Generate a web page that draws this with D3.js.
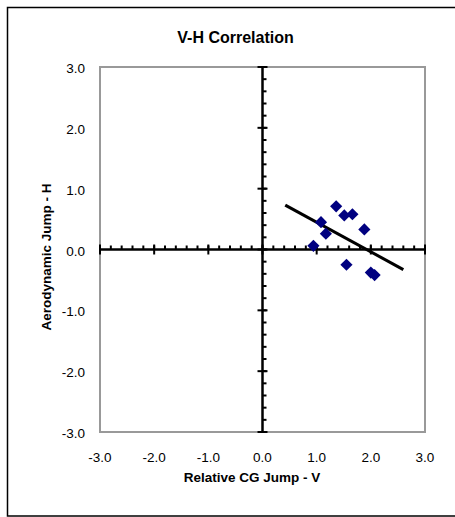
<!DOCTYPE html>
<html><head><meta charset="utf-8">
<script src="https://cdn.jsdelivr.net/npm/d3@7"></script>
<style>body{margin:0;background:#fff}svg{display:block;font-family:"Liberation Sans",Arial,sans-serif}</style>
</head><body><svg id="c" width="455" height="517"></svg>
<script>
const xVals = [1.36, 1.51, 1.66, 1.08, 1.17, 1.88, 0.94, 1.55, 2.0, 2.07];
const yVals = [0.71, 0.56, 0.58, 0.45, 0.26, 0.33, 0.06, -0.25, -0.38, -0.42];
const trendX = [0.42, 2.6];
const trendY = [0.73, -0.33];
const tickVals = [-3, -2, -1, 0, 1, 2, 3];
const minorVals = d3.range(-3, 3.0001, 0.2).map(v => Math.round(v * 10) / 10);

const svg = d3.select("#c");
const L = 100, R = 425, T = 67, B = 432;
const x = d3.scaleLinear().domain([-3, 3]).range([L, R]);
const y = d3.scaleLinear().domain([-3, 3]).range([B, T]);

svg.append("rect").attr("x", 7.5).attr("y", 7.5).attr("width", 470).attr("height", 508.5)
  .attr("fill", "#fff").attr("stroke", "#000").attr("stroke-width", 1.5);

svg.append("rect").attr("x", L).attr("y", T).attr("width", R - L).attr("height", B - T)
  .attr("fill", "none").attr("stroke", "#999").attr("stroke-width", 2);

const x0 = x(0), y0 = y(0);
const g = svg.append("g");
g.selectAll(".mx").data(minorVals).join("line")
  .attr("x1", d => x(d)).attr("x2", d => x(d)).attr("y1", y0).attr("y2", y0 - 4)
  .attr("stroke", "#000").attr("stroke-width", 2);
g.selectAll(".my").data(minorVals).join("line")
  .attr("y1", d => y(d)).attr("y2", d => y(d)).attr("x1", x0).attr("x2", x0 + 4)
  .attr("stroke", "#000").attr("stroke-width", 2);
g.selectAll(".Mx").data(tickVals).join("line")
  .attr("x1", d => x(d)).attr("x2", d => x(d)).attr("y1", y0 - 5).attr("y2", y0 + 5)
  .attr("stroke", "#000").attr("stroke-width", 2);
g.selectAll(".My").data(tickVals).join("line")
  .attr("y1", d => y(d)).attr("y2", d => y(d)).attr("x1", x0 - 5).attr("x2", x0 + 5)
  .attr("stroke", "#000").attr("stroke-width", 2);
g.append("line").attr("x1", L).attr("x2", R).attr("y1", y0).attr("y2", y0)
  .attr("stroke", "#000").attr("stroke-width", 2.5);
g.append("line").attr("x1", x0).attr("x2", x0).attr("y1", T).attr("y2", B)
  .attr("stroke", "#000").attr("stroke-width", 2.5);

svg.selectAll(".xl").data(tickVals).join("text")
  .attr("x", d => x(d)).attr("y", 461.5).attr("text-anchor", "middle")
  .attr("font-size", 13.5).text(d => d.toFixed(1));
svg.selectAll(".yl").data(tickVals).join("text")
  .attr("x", 85).attr("y", d => y(d) + 6).attr("text-anchor", "end")
  .attr("font-size", 13.5).text(d => d.toFixed(1));

svg.append("line").attr("x1", x(trendX[0])).attr("y1", y(trendY[0]))
  .attr("x2", x(trendX[1])).attr("y2", y(trendY[1]))
  .attr("stroke", "#000").attr("stroke-width", 3);

const pts = xVals.map((v, i) => [v, yVals[i]]);
svg.selectAll(".pt").data(pts).join("path")
  .attr("transform", d => `translate(${x(d[0])},${y(d[1])}) rotate(45)`)
  .attr("d", "M-4.3,-4.3H4.3V4.3H-4.3Z")
  .attr("fill", "#000080");

svg.append("text").attr("x", 235.5).attr("y", 43).attr("text-anchor", "middle")
  .attr("font-size", 16).attr("font-weight", "bold").text("V-H Correlation");
svg.append("text").attr("x", 252).attr("y", 482).attr("text-anchor", "middle")
  .attr("font-size", 13.5).attr("font-weight", "bold").text("Relative CG Jump - V");
svg.append("text").attr("transform", "translate(50.5,257) rotate(-90)").attr("text-anchor", "middle")
  .attr("font-size", 13.5).attr("font-weight", "bold").text("Aerodynamic Jump - H");
</script></body></html>
